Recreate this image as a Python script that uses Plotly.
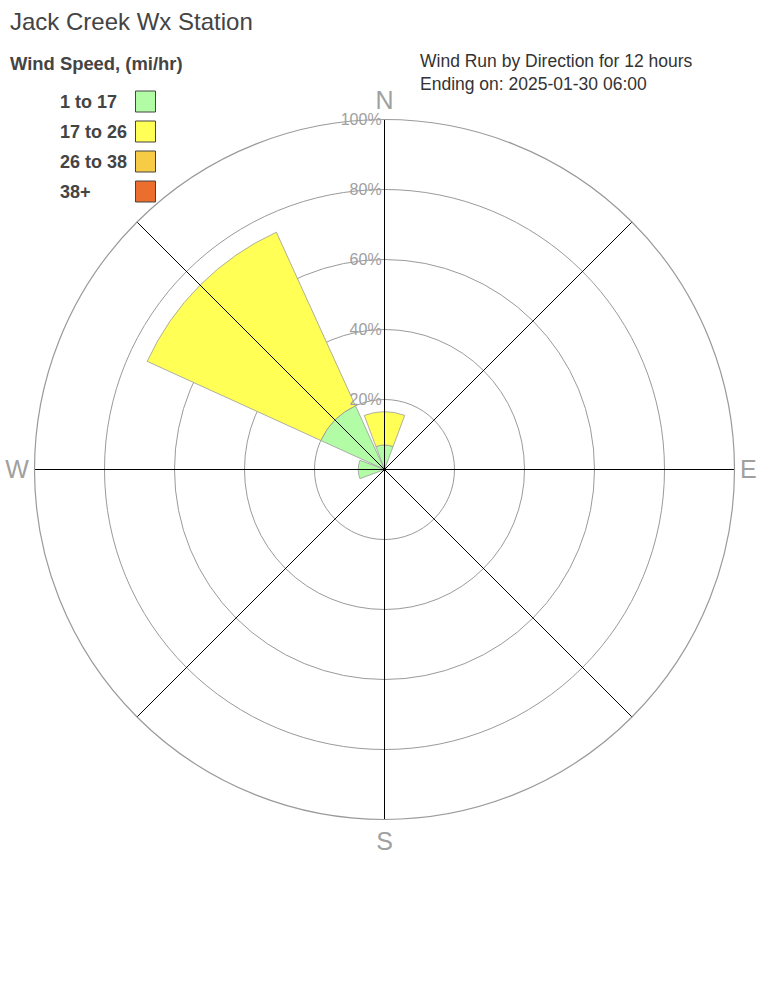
import plotly.graph_objects as go

# ---- data ----
directions = ["N", "NE", "E", "SE", "S", "SW", "W", "NW"]
speed_bins = ["1 to 17", "17 to 26", "26 to 38", "38+"]
run_1_17 = [7.0, 0, 0, 0, 0, 0, 7.5, 20.0]
run_17_26 = [9.5, 0, 0, 0, 0, 0, 0, 54.5]
run_26_38 = [0, 0, 0, 0, 0, 0, 0, 0]
run_38p = [0, 0, 0, 0, 0, 0, 0, 0]
radial_ticks = [20, 40, 60, 80, 100]
radial_labels = ["20%", "40%", "60%", "80%", "100%"]
compass_labels = ["N", "E", "S", "W"]
subtitle_lines = ["Wind Run by Direction for 12 hours", "Ending on: 2025-01-30 06:00"]

series = [run_1_17, run_17_26, run_26_38, run_38p]
colors = ["#b3fca6", "#ffff55", "#f7cb45", "#ec6e2e"]

FONT = "Liberation Sans, Arial, sans-serif"
W, H = 768, 1008


def px(x):
    return x / W


def py(y):
    return 1 - y / H


theta = [i * 360 / len(directions) for i in range(len(directions))]

fig = go.Figure()
for name, vals, col in zip(speed_bins, series, colors):
    fig.add_trace(go.Barpolar(
        r=vals, theta=theta, name=name, width=[41] * len(theta),
        marker=dict(color=col, line=dict(color="#9a9a9a", width=0.8)),
        showlegend=False, hoverinfo="skip"))

# spokes on top of the bars
for t in theta:
    fig.add_trace(go.Scatterpolar(
        r=[0, radial_ticks[-1]], theta=[t, t], mode="lines",
        line=dict(color="black", width=1), showlegend=False, hoverinfo="skip"))

cx, cy, R = 384.5, 469.5, 350
fig.update_layout(
    width=W, height=H,
    margin=dict(l=0, r=0, t=0, b=0),
    paper_bgcolor="white",
    font=dict(family=FONT),
    polar=dict(
        domain=dict(x=[px(cx - R), px(cx + R)], y=[py(cy + R), py(cy - R)]),
        bgcolor="white",
        barmode="stack",
        radialaxis=dict(
            range=[0, 100], tickvals=radial_ticks, ticktext=radial_labels,
            angle=90, tickangle=90, side="counterclockwise",
            showline=False, ticks="", gridcolor="#9a9a9a", gridwidth=1.2,
            tickfont=dict(size=16, color="#a0a0a0", family=FONT)),
        angularaxis=dict(
            rotation=90, direction="clockwise",
            tickvals=[0, 90, 180, 270], ticktext=compass_labels,
            showgrid=False, showline=True, linecolor="#9a9a9a", linewidth=1.2,
            ticks="", tickfont=dict(size=25, color="#a0a0a0", family=FONT)),
    ),
)

ann = []
ann.append(dict(text="Jack Creek Wx Station", x=px(8), y=py(21), xref="paper", yref="paper",
                xanchor="left", yanchor="middle", showarrow=False,
                font=dict(size=24, color="#444444", family=FONT)))
ann.append(dict(text="<b>Wind Speed, (mi/hr)</b>", x=px(8), y=py(63), xref="paper", yref="paper",
                xanchor="left", yanchor="middle", showarrow=False,
                font=dict(size=18.4, color="#444444", family=FONT)))
ann.append(dict(text="<br>".join(subtitle_lines), x=px(418), y=py(73), xref="paper", yref="paper",
                xanchor="left", yanchor="middle", align="left", showarrow=False,
                font=dict(size=17.5, color="#333333", family=FONT)))
shapes = []
for i, (name, col) in enumerate(zip(speed_bins, colors)):
    yc = 101.5 + 30 * i
    ann.append(dict(text="<b>%s</b>" % name, x=px(58), y=py(yc + 0.5), xref="paper", yref="paper",
                    xanchor="left", yanchor="middle", showarrow=False,
                    font=dict(size=18, color="#444444", family=FONT)))
    shapes.append(dict(type="rect", xref="paper", yref="paper",
                       x0=px(135.5), x1=px(155.5), y0=py(yc - 10.5), y1=py(yc + 10.5),
                       fillcolor=col, line=dict(color="#444444", width=1)))
fig.update_layout(annotations=ann, shapes=shapes)

fig.write_html("out.html", config={"displayModeBar": False},
               post_script="document.body.style.margin='0px';")
